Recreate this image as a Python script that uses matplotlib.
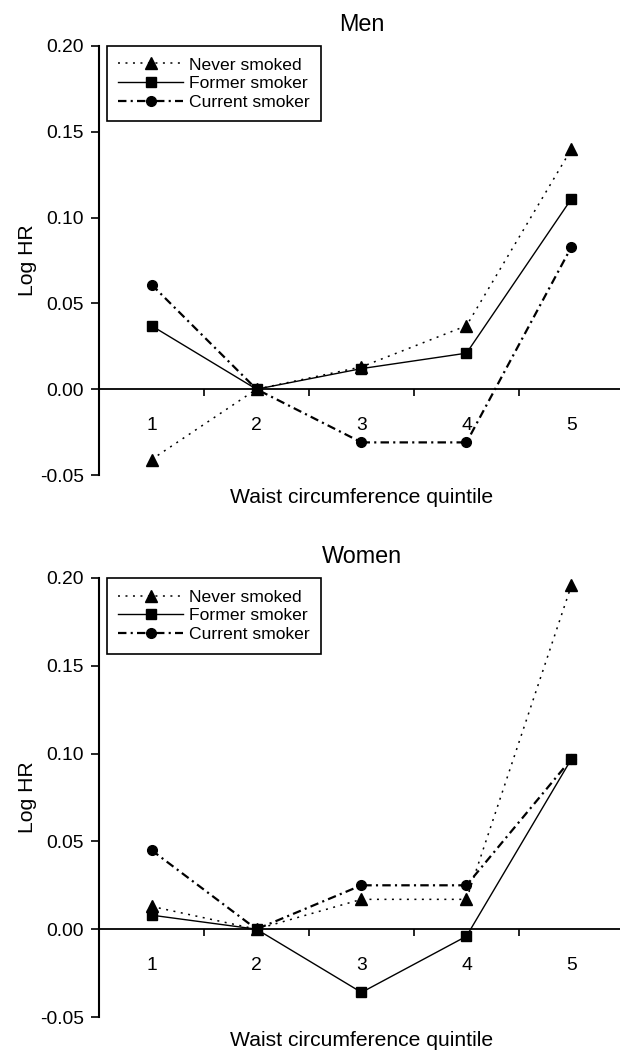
import matplotlib
matplotlib.use("Agg")
import matplotlib.pyplot as plt

plt.rcParams['font.family'] = ['Liberation Sans', 'DejaVu Sans']

quintiles = [1, 2, 3, 4, 5]
quintile_labels = ['1', '2', '3', '4', '5']
series_names = ['Never smoked', 'Former smoker', 'Current smoker']

men_never = [-0.041, 0.0, 0.013, 0.037, 0.140]
men_former = [0.037, 0.0, 0.012, 0.021, 0.111]
men_current = [0.061, 0.0, -0.031, -0.031, 0.083]

women_never = [0.013, 0.0, 0.017, 0.017, 0.196]
women_former = [0.008, 0.0, -0.036, -0.004, 0.097]
women_current = [0.045, 0.0, 0.025, 0.025, 0.097]

yticks = [-0.05, 0.00, 0.05, 0.10, 0.15, 0.20]
ytick_labels = ['-0.05', '0.00', '0.05', '0.10', '0.15', '0.20']

W, H = 620, 1050
fig = plt.figure(figsize=(W / 100, H / 100), dpi=100)

styles = [
    dict(marker='^', ms=8.0, lw=1.1, dashes=(1.3, 3.6)),
    dict(marker='s', ms=7.4, lw=1.0, linestyle='-'),
    dict(marker='o', ms=7.0, lw=1.6, dashes=(3.8, 1.9, 0.95, 1.9)),
]


def panel(rect, title, data, xl_y):
    ax = fig.add_axes(rect)
    for vals, st, name in zip(data, styles, series_names):
        kw = dict(color='black', marker=st['marker'], markersize=st['ms'],
                  linewidth=st['lw'], markerfacecolor='black',
                  markeredgecolor='black', label=name, clip_on=False)
        if 'dashes' in st:
            kw['dashes'] = st['dashes']
        else:
            kw['linestyle'] = st['linestyle']
        ax.plot(quintiles, vals, **kw)
    ax.set_xlim(0.5, 5.5)
    ax.set_ylim(-0.05, 0.20)
    ax.spines['top'].set_visible(False)
    ax.spines['right'].set_visible(False)
    ax.spines['bottom'].set_position(('data', 0))
    ax.spines['left'].set_linewidth(1.5)
    ax.spines['bottom'].set_linewidth(1.3)
    ax.set_yticks(yticks)
    ax.set_yticklabels(ytick_labels, fontsize=13.9)
    ax.tick_params(axis='y', direction='out', length=6, width=1.2, pad=5)
    ax.set_xticks(quintiles)
    ax.set_xticklabels(quintile_labels, fontsize=13.9)
    ax.set_xticks([1.5, 2.5, 3.5, 4.5, 5.5], minor=True)
    ax.tick_params(axis='x', which='major', length=0, pad=20)
    ax.tick_params(axis='x', which='minor', direction='out', length=5, width=1.2)
    ax.set_title(title, fontsize=16.8, pad=11)
    ax.set_xlabel('Waist circumference quintile', fontsize=15.2)
    ax.xaxis.set_label_coords(0.5, xl_y)
    ax.xaxis.label.set_verticalalignment('center')
    ax.set_ylabel('Log HR', fontsize=15.2)
    ax.yaxis.set_label_coords(-0.137, 0.5)
    ax.yaxis.label.set_verticalalignment('center')
    leg = ax.legend(loc='upper left', bbox_to_anchor=(0.015, 1.0),
                    borderaxespad=0, fontsize=12.6, handlelength=3.7,
                    handletextpad=0.35, labelspacing=0.2, borderpad=0.65,
                    fancybox=False, frameon=True, framealpha=1)
    leg.get_frame().set_edgecolor('black')
    leg.get_frame().set_linewidth(1.2)
    return ax


left = 99 / W
width = 525 / W
top_rect = [left, 1 - 475 / H, width, (475 - 46) / H]
bot_rect = [left, 1 - 1017 / H, width, (1017 - 578) / H]

panel(top_rect, 'Men', [men_never, men_former, men_current], -0.0513)
panel(bot_rect, 'Women', [women_never, women_former, women_current], -0.0524)

fig.savefig('out.png', dpi=100)
